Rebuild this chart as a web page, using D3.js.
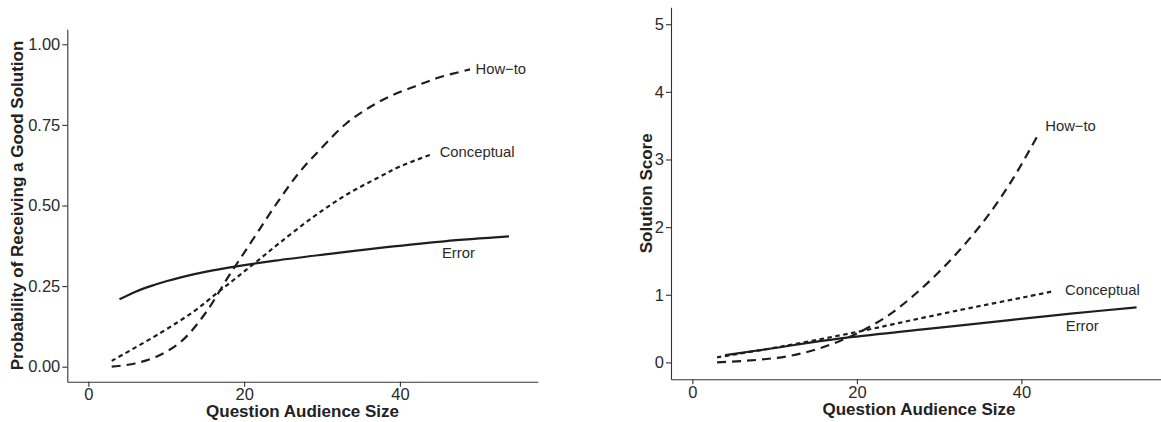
<!DOCTYPE html>
<html>
<head>
<meta charset="utf-8">
<script src="https://cdn.jsdelivr.net/npm/d3@7"></script>
<style>
  body { margin: 0; background: #fff; }
  svg { display: block; font-family: "Liberation Sans", Arial, Helvetica, sans-serif; }
  .tick text { fill: #2b2b2b; font-size: 16.5px; }
  .tick line, .domain { stroke: #333; stroke-width: 1.1; }
  .axis-title { fill: #222; font-size: 17px; font-weight: bold; }
  .label { fill: #2b2b2b; font-size: 14.8px; }
</style>
</head>
<body>
<div class="chart"></div>
<script>
// Left panel: probability of receiving a good solution.
const probHowToSize = [3, 6, 9, 12, 15, 18, 21, 24, 27, 30, 33, 36, 39, 42, 45, 49];
const probHowTo = [0.0, 0.010, 0.034, 0.080, 0.165, 0.280, 0.390, 0.500, 0.600, 0.680, 0.752, 0.803, 0.842, 0.870, 0.897, 0.922];

const probConceptSize = [3, 9.2, 13.5, 16.5, 19, 21.6, 24.6, 28.9, 33.1, 37.4, 40, 44];
const probConcept = [0.018, 0.104, 0.171, 0.228, 0.276, 0.326, 0.385, 0.465, 0.533, 0.589, 0.621, 0.658];

const probErrorSize = [4, 6, 8, 10, 12, 15, 19, 24, 31, 38, 45.7, 54];
const probError = [0.209, 0.232, 0.250, 0.265, 0.278, 0.294, 0.311, 0.329, 0.350, 0.370, 0.389, 0.404];

// Right panel: solution score.
const scoreHowToSize = [3, 6, 9, 12, 15, 18, 21, 24, 27, 30, 33, 36, 39, 42];
const scoreHowTo = [0.0, 0.02, 0.05, 0.10, 0.19, 0.32, 0.49, 0.71, 1.00, 1.34, 1.73, 2.18, 2.72, 3.36];

const scoreConceptSize = [3, 10.6, 20, 26.9, 32.5, 36.6, 40.6, 44];
const scoreConcept = [0.075, 0.23, 0.45, 0.63, 0.773, 0.873, 0.97, 1.055];

const scoreErrorSize = [4, 10, 18, 28, 38.6, 46, 54];
const scoreError = [0.108, 0.213, 0.355, 0.487, 0.626, 0.72, 0.814];

// Axis ticks and series labels.
const xTicks = [0, 20, 40];
const probTicks = [0, 0.25, 0.5, 0.75, 1];
const scoreTicks = [0, 1, 2, 3, 4, 5];
const seriesNames = ['How\u2212to', 'Conceptual', 'Error'];
const probLabelAt = [[49.7, 0.925], [45.1, 0.666], [45.4, 0.352]];
const scoreLabelAt = [[42.9, 3.50], [45.3, 1.08], [45.4, 0.54]];

const width = 1161, height = 422;
const dashes = ['9,6', '4.5,3.5', null]; // How-to, Conceptual, Error

const svg = d3.select('.chart')
  .append('svg')
    .attr('width', width)
    .attr('height', height);

function zip(xs, ys) {
  return xs.map((x, i) => [x, ys[i]]);
}

function panel(opts) {
  const x = d3.scaleLinear().domain(opts.xDomain).range(opts.xRange);
  const y = d3.scaleLinear().domain(opts.yDomain).range(opts.yRange);
  const g = svg.append('g');

  // Axes.
  g.append('g')
    .attr('transform', `translate(0, ${opts.yRange[0]})`)
    .call(d3.axisBottom(x).tickValues(xTicks).tickSize(5).tickPadding(2).tickSizeOuter(0));

  g.append('g')
    .attr('transform', `translate(${opts.xRange[0]}, 0)`)
    .call(d3.axisLeft(y).tickValues(opts.yTicks).tickFormat(opts.yFormat)
      .tickSize(5).tickPadding(2).tickSizeOuter(0));

  // Axis titles.
  g.append('text')
    .attr('class', 'axis-title')
    .attr('text-anchor', 'middle')
    .attr('x', (opts.xRange[0] + opts.xRange[1]) / 2)
    .attr('y', opts.xTitleY)
    .text('Question Audience Size');

  g.append('text')
    .attr('class', 'axis-title')
    .attr('text-anchor', 'middle')
    .attr('transform', `translate(${opts.yTitleX}, ${(opts.yRange[0] + opts.yRange[1]) / 2}) rotate(-90)`)
    .text(opts.yTitle);

  // Lines.
  const line = d3.line()
    .x(d => x(d[0]))
    .y(d => y(d[1]))
    .curve(d3.curveCatmullRom.alpha(0.5));

  g.selectAll('path.series')
    .data(opts.series)
    .join('path')
      .attr('class', 'series')
      .attr('fill', 'none')
      .attr('stroke', '#1e1e1e')
      .attr('stroke-width', 2.2)
      .attr('stroke-dasharray', (d, i) => dashes[i])
      .attr('d', line);

  // Labels.
  g.selectAll('text.label')
    .data(opts.labels)
    .join('text')
      .attr('class', 'label')
      .attr('x', d => x(d[0]))
      .attr('y', d => y(d[1]))
      .attr('dy', '0.35em')
      .text((d, i) => seriesNames[i]);
}

panel({
  xDomain: [-2.7, 57.7], xRange: [67.3, 537.8],
  yDomain: [-0.0465, 1.0465], yRange: [381.7, 29.3],
  yTicks: probTicks, yFormat: d3.format('.2f'),
  yTitle: 'Probability of Receiving a Good Solution',
  xTitleY: 417, yTitleX: 23,
  series: [zip(probHowToSize, probHowTo), zip(probConceptSize, probConcept), zip(probErrorSize, probError)],
  labels: probLabelAt
});

panel({
  xDomain: [-2.6, 57.7], xRange: [671, 1167],
  yDomain: [-0.25, 5.25], yRange: [379.3, 7.3],
  yTicks: scoreTicks, yFormat: d3.format('d'),
  yTitle: 'Solution Score',
  xTitleY: 415, yTitleX: 652,
  series: [zip(scoreHowToSize, scoreHowTo), zip(scoreConceptSize, scoreConcept), zip(scoreErrorSize, scoreError)],
  labels: scoreLabelAt
});
</script>
</body>
</html>
